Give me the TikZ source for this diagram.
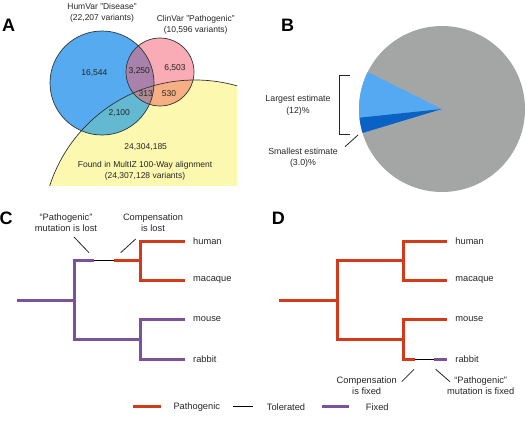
\documentclass[tikz,border=0pt]{standalone}
\usepackage{fontspec}
\setmainfont{Liberation Sans}
\usetikzlibrary{positioning}
\definecolor{hvblue}{RGB}{85,170,240}
\definecolor{cvpink}{RGB}{249,172,182}
\definecolor{mzyellow}{RGB}{252,248,175}
\definecolor{hvcv}{RGB}{168,130,170}
\definecolor{hvmz}{RGB}{100,185,210}
\definecolor{cvmz}{RGB}{245,175,130}
\definecolor{allthree}{RGB}{175,140,150}
\definecolor{piegrey}{RGB}{164,166,165}
\definecolor{pielight}{RGB}{85,169,242}
\definecolor{piedark}{RGB}{10,98,196}
\definecolor{pathored}{RGB}{212,58,26}
\definecolor{fixpurple}{RGB}{123,82,152}

\begin{document}
\begin{tikzpicture}[x=1pt, y=1pt,
		lbl/.style={font=\fontsize{8.5}{11}\selectfont, text=black!85, inner sep=0pt, align=center},
		pielbl/.style={lbl, font=\fontsize{8.8}{11.5}\selectfont},
		treelbl/.style={lbl, font=\fontsize{9.3}{11}\selectfont},
		leaf/.style={treelbl, anchor=west},
		panel/.style={font=\fontsize{18}{18}\selectfont\bfseries, inner sep=0pt},
		pathbr/.style={draw=pathored, line width=3pt},
		tolbr/.style={draw=black, line width=0.9pt},
		fixbr/.style={draw=fixpurple, line width=3pt},
		lead/.style={draw=black!85, line width=0.8pt},
		vline/.style={draw=black!80, line width=0.7pt}]
			\useasboundingbox (0,0) rectangle (526,421);
			
			% Panel letters
			\node[panel] (pA) at (8.5,396) {A};
			\node[panel] (pB) at (287.5,396) {B};
			\node[panel] (pC) at (6,202.5) {C};
			\node[panel] (pD) at (278.3,202.5) {D};
			
			% Venn circles
			\coordinate (hv) at (102,338);
			\coordinate (cv) at (160,349);
			\coordinate (mz) at (195,188.4);
			\begin{scope}
				\clip (0,236) rectangle (237,421);
				\fill[mzyellow] (mz) circle (152.6pt);
			\end{scope}
			\fill[hvblue] (hv) circle (52pt);
			\fill[cvpink] (cv) circle (34pt);
			\begin{scope}
				\clip (hv) circle (52pt);
				\fill[hvcv] (cv) circle (34pt);
			\end{scope}
			\begin{scope}
				\clip (0,236) rectangle (237,421);
				\clip (mz) circle (152.6pt);
				\fill[hvmz] (hv) circle (52pt);
				\fill[cvmz] (cv) circle (34pt);
				\clip (hv) circle (52pt);
				\fill[allthree] (cv) circle (34pt);
			\end{scope}
			\begin{scope}
				\clip (0,236) rectangle (237,421);
				\draw[vline] (mz) circle (152.6pt);
			\end{scope}
			\draw[vline] (hv) circle (52pt);
			\draw[vline] (cv) circle (34pt);
			
			% Venn labels
			\node[lbl] (humvar) at (102,407.8) {HumVar "Disease"\\(22,207 variants)};
			\node[lbl] (clinvar) at (195.7,396) {ClinVar "Pathogenic"\\(10,596 variants)};
			\node[lbl] (n16544) at (94.3,348) {16,544};
			\node[lbl] (n3250) at (139.3,350) {3,250};
			\node[lbl] (n6503) at (175,353) {6,503};
			\node[lbl] (n313) at (145.7,327) {313};
			\node[lbl] (n530) at (169,327) {530};
			\node[lbl] (n2100) at (119.3,308.3) {2,100};
			\node[lbl] (n24304185) at (145.7,274.3) {24,304,185};
			\node[lbl] (multiz) at (145,250) {Found in MultIZ 100-Way alignment\\(24,307,128 variants)};
			
			% Pie
			\coordinate (pc) at (442,312);
			\fill[piegrey] (pc) circle (83pt);
			\fill[pielight] (pc) -- ++(153.6:83pt) arc[start angle=153.6, end angle=186, radius=83pt] -- cycle;
			\fill[piedark] (pc) -- ++(186:83pt) arc[start angle=186, end angle=196.8, radius=83pt] -- cycle;
			
			% Pie labels
			\coordinate (brt) at (350,345.3);
			\coordinate (brb) at (350,286.7);
			\draw[lead] (brt) -- ++(-11,0) |- (brb);
			\node[pielbl] (largest) at (298,315.8) {Largest estimate\\(12)\%};
			\node[pielbl] (smallest) at (303,263.5) {Smallest estimate\\(3.0)\%};
			\coordinate (sm-a) at (345,274.3);
			\coordinate (sm-b) at (358,286);
			\draw[lead] (sm-a) -- (sm-b);
			
			% Tree C
			\coordinate (croot) at (17,121);
			\coordinate (cA) at (74,160.5);
			\coordinate (cB) at (74,81.5);
			\coordinate (closs) at (94,160.5);
			\coordinate (ccomp) at (114,160.5);
			\coordinate (cprim) at (140,160.5);
			\coordinate (cmur) at (140,81.5);
			\coordinate (chum) at (185,180);
			\coordinate (cmac) at (185,141);
			\coordinate (cmou) at (185,101.5);
			\coordinate (crab) at (185,61.5);
			\draw[fixbr] (croot) -- (croot -| cA);
			\draw[fixbr] (closs) -- (cA) -- (cB) -- (cmur);
			\draw[tolbr] (closs) -- (ccomp);
			\draw[pathbr] (ccomp) -- (cprim);
			\draw[pathbr] (chum) -| (cprim) |- (cmac);
			\draw[fixbr] (cmou) -| (cmur) |- (crab);
			\node[leaf, right=8pt of chum] (chum-l) {human};
			\node[leaf, right=8pt of cmac] (cmac-l) {macaque};
			\node[leaf, right=8pt of cmou] (cmou-l) {mouse};
			\node[leaf, right=8pt of crab] (crab-l) {rabbit};
			
			% Tree C annotations
			\node[treelbl] (closs-l) at (66,198.5) {“Pathogenic”\\mutation is lost};
			\node[treelbl] (ccomp-l) at (153,198.5) {Compensation\\is lost};
			\coordinate (closs-a) at (74,184);
			\coordinate (closs-b) at (89,168.3);
			\coordinate (ccomp-a) at (135.7,182);
			\coordinate (ccomp-b) at (120.7,168.3);
			\draw[lead] (closs-a) -- (closs-b);
			\draw[lead] (ccomp-a) -- (ccomp-b);
			
			% Tree D
			\coordinate (droot) at (279,121);
			\coordinate (dA) at (337,160.5);
			\coordinate (dB) at (337,81.5);
			\coordinate (dprim) at (403.3,160.5);
			\coordinate (dmur) at (403.3,81.5);
			\coordinate (dcomp) at (415,61.5);
			\coordinate (dfix) at (434,61.5);
			\coordinate (dhum) at (446.7,180);
			\coordinate (dmac) at (446.7,141);
			\coordinate (dmou) at (446.7,101.5);
			\coordinate (drab) at (446.7,61.5);
			\draw[pathbr] (droot) -- (droot -| dA);
			\draw[pathbr] (dprim) -- (dA) -- (dB) -- (dmur);
			\draw[pathbr] (dhum) -| (dprim) |- (dmac);
			\draw[pathbr] (dmou) -| (dmur) |- (dcomp);
			\draw[tolbr] (dcomp) -- (dfix);
			\draw[fixbr] (dfix) -- (drab);
			\node[leaf, right=8.5pt of dhum] (dhum-l) {human};
			\node[leaf, right=8.5pt of dmac] (dmac-l) {macaque};
			\node[leaf, right=8.5pt of dmou] (dmou-l) {mouse};
			\node[leaf, right=8.5pt of drab] (drab-l) {rabbit};
			
			% Tree D annotations
			\node[treelbl] (dcomp-l) at (366.7,35.5) {Compensation\\is fixed};
			\node[treelbl] (dfix-l) at (480.7,35.5) {“Pathogenic”\\mutation is fixed};
			\coordinate (dcomp-a) at (401.7,39.3);
			\coordinate (dcomp-b) at (414,51.7);
			\coordinate (dfix-a) at (435.7,51.7);
			\coordinate (dfix-b) at (450,39.3);
			\draw[lead] (dcomp-a) -- (dcomp-b);
			\draw[lead] (dfix-a) -- (dfix-b);
			
			% Legend
			\coordinate (lg-p1) at (132.7,14.3);
			\coordinate (lg-p2) at (160.7,14.3);
			\coordinate (lg-t1) at (233.3,14.3);
			\coordinate (lg-t2) at (253.3,14.3);
			\coordinate (lg-f1) at (321.7,14.3);
			\coordinate (lg-f2) at (349.3,14.3);
			\draw[pathbr] (lg-p1) -- (lg-p2);
			\draw[tolbr] (lg-t1) -- (lg-t2);
			\draw[fixbr] (lg-f1) -- (lg-f2);
			\node[leaf, right=12.6pt of lg-p2] (lg-pl) {Pathogenic};
			\node[leaf, right=13.4pt of lg-t2] (lg-tl) {Tolerated};
			\node[leaf, right=16.4pt of lg-f2] (lg-fl) {Fixed};
		\end{tikzpicture}
\end{document}
